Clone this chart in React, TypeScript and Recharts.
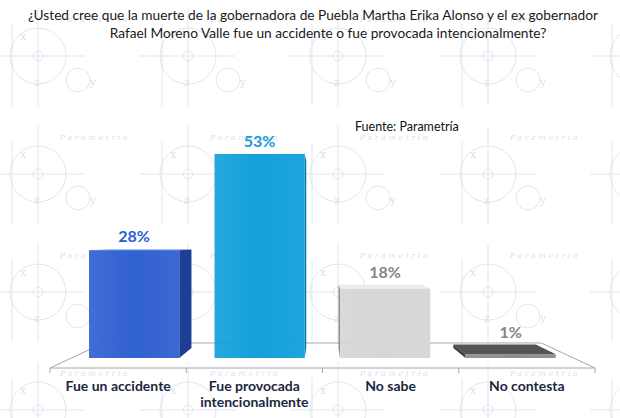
import { BarChart, Bar, XAxis, YAxis, ReferenceArea, LabelList } from "recharts";

// encuesta: respuestas y porcentajes
const categories = ["Fue un accidente", "Fue provocada\nintencionalmente", "No sabe", "No contesta"];
const values = [28, 53, 18, 1];
const valueLabels = ["28%", "53%", "18%", "1%"];

// colores por barra: frente, costado, tapa, etiqueta
const palette = [
  { front: "#3161d1", side: "#1d3e93", top: "#4a78e0", label: "#2a5ed6" },
  { front: "#14a0da", side: "#0b78a8", top: "#3bb4e6", label: "#1a9ad6" },
  { front: "#d6d6d6", side: "#8e8e8e", top: "#ececec", label: "#858585" },
  { front: "#8c8c8c", side: "#3e3e3e", top: "#545454", label: "#858585" },
];

const data = categories.map((name, i) => ({ name, value: values[i], label: valueLabels[i] }));

// perspectiva: punto de fuga y escalas de profundidad
const VX = 322.5;
const VY = 241;
const FRONT = 0.921; // plano frontal de las barras respecto al borde del piso
const DEPTH = 0.915; // cara trasera de la barra
const FLOOR_BACK = 0.803; // borde trasero del piso

const back = (px: number, py: number) => [VX + (px - VX) * DEPTH, VY + (py - VY) * DEPTH];
const pts = (arr: number[][]) => arr.map((p) => p.join(",")).join(" ");

function frontFace(x: number, width: number) {
  const fx = VX + (x - VX) * FRONT;
  return { fx, fw: width * FRONT };
}

const Box3D = (props: any) => {
  const { x, y, width, height, index } = props;
  const c = palette[index];
  const { fx, fw } = frontFace(x, width);
  const tl = [fx, y];
  const tr = [fx + fw, y];
  const br = [fx + fw, y + height];
  const bl = [fx, y + height];
  const btl = back(tl[0], tl[1]);
  const btr = back(tr[0], tr[1]);
  const bbr = back(br[0], br[1]);
  const bbl = back(bl[0], bl[1]);
  const gid = `front-${index}`;
  return (
    <g>
      <defs>
        <linearGradient id={gid} x1="0" y1="0" x2="1" y2="0">
          <stop offset="0" stopColor={c.front} stopOpacity={0.92} />
          <stop offset="0.5" stopColor={c.front} />
          <stop offset="1" stopColor={c.front} stopOpacity={0.95} />
        </linearGradient>
      </defs>
      {y > VY && <polygon points={pts([tl, tr, btr, btl])} fill={c.top} />}
      {fx + fw < VX && <polygon points={pts([tr, btr, bbr, br])} fill={c.side} />}
      {fx > VX && <polygon points={pts([tl, btl, bbl, bl])} fill={c.side} />}
      <rect x={fx} y={y} width={fw} height={height} fill={`url(#${gid})`} />
    </g>
  );
};

const ValueLabel = (props: any) => {
  const { x, y, width, index } = props;
  const c = palette[index];
  const { fx, fw } = frontFace(x, width);
  const top = Math.min(y, back(fx, y)[1]);
  return (
    <text x={fx + fw / 2} y={top - 7} textAnchor="middle" fill={c.label}
      fontFamily="Lato, sans-serif" fontWeight={700} fontSize={16}>
      {valueLabels[index]}
    </text>
  );
};

// piso en perspectiva con marcas de separación
const Floor = (props: any) => {
  const { x, y, width, height } = props;
  const fy = y + height;
  const by = VY + (fy - VY) * FLOOR_BACK;
  const bl = VX + (x - VX) * FLOOR_BACK;
  const br = VX + (x + width - VX) * FLOOR_BACK;
  const n = categories.length;
  return (
    <g>
      <polygon points={pts([[x, fy], [x + width, fy], [br, by], [bl, by]])}
        fill="#ffffff" fillOpacity={0.35} stroke="#a6a6a6" strokeWidth={1} />
      {Array.from({ length: n + 1 }, (_, i) => (
        <line key={i} x1={x + (i * width) / n} y1={fy} x2={x + (i * width) / n} y2={fy + 5}
          stroke="#a6a6a6" />
      ))}
    </g>
  );
};

const CategoryTick = ({ x, y, payload }: any) => {
  const lines = String(payload.value).split("\n");
  return (
    <text x={x} y={y} textAnchor="middle" fill="#1c2740"
      fontFamily="Lato, sans-serif" fontWeight={700} fontSize={14}>
      {lines.map((l, i) => (
        <tspan key={i} x={x} dy={i === 0 ? 23 : 16}>{l}</tspan>
      ))}
    </text>
  );
};

const Watermark = () => (
  <svg width={620} height={418} style={{ position: "absolute", left: 0, top: 0 }}>
    <defs>
      <pattern id="wm" width="150" height="118" patternUnits="userSpaceOnUse" x="-10" y="-6">
        <g stroke="#dfe6ef" strokeWidth={1} fill="none">
          <line x1="0" y1="62" x2="95" y2="62" />
          <line x1="48" y1="14" x2="48" y2="112" />
          <line x1="22" y1="30" x2="22" y2="112" />
          <circle cx="48" cy="62" r="28" />
          <circle cx="48" cy="62" r="5" />
          <circle cx="88" cy="86" r="12" />
        </g>
        <g fill="#d9e1ec" fontFamily="DejaVu Serif, serif" fontSize={11}>
          <text x="30" y="46">x</text>
          <text x="44" y="92">z</text>
          <text x="100" y="92">y</text>
          <text x="70" y="28" fontStyle="italic" fontSize={8} letterSpacing={2.5}>Parametría</text>
        </g>
      </pattern>
    </defs>
    <rect width={620} height={418} fill="#ffffff" />
    <rect width={620} height={418} fill="url(#wm)" />
  </svg>
);

export default function App() {
  return (
    <div style={{ position: "absolute", left: 0, top: 0, width: 620, height: 418, background: "#fff" }}>
      <Watermark />
      <svg width={620} height={418} style={{ position: "absolute", left: 0, top: 0 }}>
        <g fontFamily="Lato, sans-serif" fontSize={13.7} fill="#1a1a1a" textAnchor="middle">
          <text x={313} y={20}>¿Usted cree que la muerte de la gobernadora de Puebla Martha Erika Alonso y el ex gobernador</text>
          <text x={328} y={38}>Rafael Moreno Valle fue un accidente o fue provocada intencionalmente?</text>
        </g>
        <text x={355} y={131} fontFamily="Lato, sans-serif" fontSize={12.5} fill="#111">Fuente: Parametría</text>
      </svg>
      <div style={{ position: "absolute", left: 0, top: 0 }}>
        <BarChart width={620} height={418} data={data}
          margin={{ top: 127, right: 25, bottom: 0, left: 50 }}>
          <YAxis hide domain={[-2.6, 60]} allowDataOverflow />
          <XAxis dataKey="name" height={50} axisLine={false} tickLine={false} tickSize={0}
            tickMargin={0} interval={0} tick={<CategoryTick />} />
          <ReferenceArea y1={-2.6} y2={3.9} ifOverflow="visible" shape={<Floor />} />
          <Bar dataKey="value" barSize={98} shape={<Box3D />} isAnimationActive={false}>
            <LabelList dataKey="label" content={<ValueLabel />} />
          </Bar>
        </BarChart>
      </div>
    </div>
  );
}
